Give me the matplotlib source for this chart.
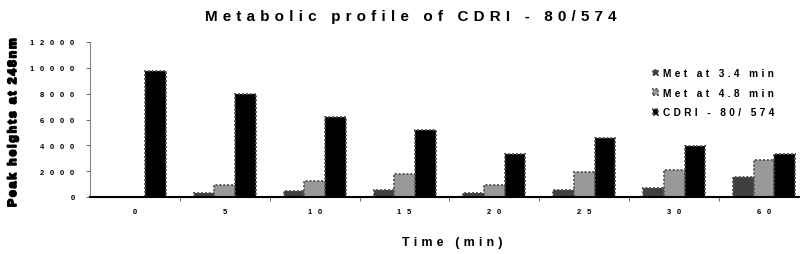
import matplotlib
matplotlib.use('Agg')
import matplotlib.pyplot as plt
import matplotlib.patheffects as pe
import numpy as np
from matplotlib.ticker import FuncFormatter

plt.rcParams['font.family'] = ['Liberation Sans', 'DejaVu Sans']

# sampling times (min) and peak heights
times = ['0', '5', '10', '15', '20', '25', '30', '60']
met_34 = [0, 300, 450, 560, 280, 560, 720, 1520]
met_48 = [0, 950, 1230, 1770, 950, 1950, 2080, 2870]
cdri = [9750, 8000, 6200, 5200, 3330, 4540, 3950, 3310]
labels = ['Met at 3.4 min', 'Met at 4.8 min', 'CDRI - 80/ 574']
colors = ['#404040', '#999999', '#000000']


def spaced(s, gap='\u2004'):
    # the original chart has wide letter spacing everywhere
    return gap.join(s)


TICKGAP = '\u2002\u2005'

fig = plt.figure(figsize=(8.0, 2.55), dpi=100)
ax = fig.add_axes([90 / 800, 1 - 198 / 255, 710 / 800, 155 / 255])

x = np.arange(len(times))
w = 0.23
for k, (vals, lab, c) in enumerate(zip((met_34, met_48, cdri), labels, colors)):
    ax.bar(x + (k - 1) * w, vals, w, color=c, edgecolor='#555555',
           linewidth=1.4, linestyle=(0, (1, 1)), label=spaced(lab))

ax.set_xlim(-0.5, 7.4)
ax.set_ylim(0, 12000)
ax.set_yticks(np.arange(0, 12001, 2000))
ax.yaxis.set_major_formatter(FuncFormatter(
    lambda v, p: spaced('%d' % v, TICKGAP)))
ax.set_xticks(x)
ax.set_xticklabels([spaced(t, TICKGAP) for t in times])
ax.set_xticks(x[:-1] + 0.5, minor=True)
ax.tick_params(axis='x', which='major', length=0, pad=8, labelsize=5.5)
ax.tick_params(axis='x', which='minor', length=3, width=0.6, color='#555555')
ax.tick_params(axis='y', length=3, width=0.6, color='#555555', labelsize=5.5,
               pad=8)
for t in ax.get_yticklabels() + ax.get_xticklabels():
    t.set_fontweight('bold')

for s in ('top', 'right'):
    ax.spines[s].set_visible(False)
ax.spines['left'].set_color('#888888')
ax.spines['left'].set_linewidth(0.8)
ax.spines['bottom'].set_linewidth(1.5)

fig.text(411 / 800, 1 - 17 / 255, spaced('Metabolic profile of CDRI - 80/574'),
         fontsize=11, fontweight='bold', ha='center', va='center')
ax.set_xlabel(spaced('Time (min)'), fontsize=9, fontweight='bold')
ax.xaxis.set_label_coords(0.51, -0.25)
yl = ax.set_ylabel(spaced('Peak heights at 248nm', '\u2006'), fontsize=8.6,
                   fontweight='bold')
yl.set_path_effects([pe.withStroke(linewidth=1.2, foreground='black')])
ax.yaxis.set_label_coords(-0.1, 0.48)

leg = ax.legend(loc='upper left', bbox_to_anchor=(0.78, 0.89), frameon=False,
                handlelength=0.5, handleheight=0.5, handletextpad=0.5,
                labelspacing=0.95, prop={'weight': 'bold', 'size': 7.3})

fig.savefig('out.png', dpi=100)
